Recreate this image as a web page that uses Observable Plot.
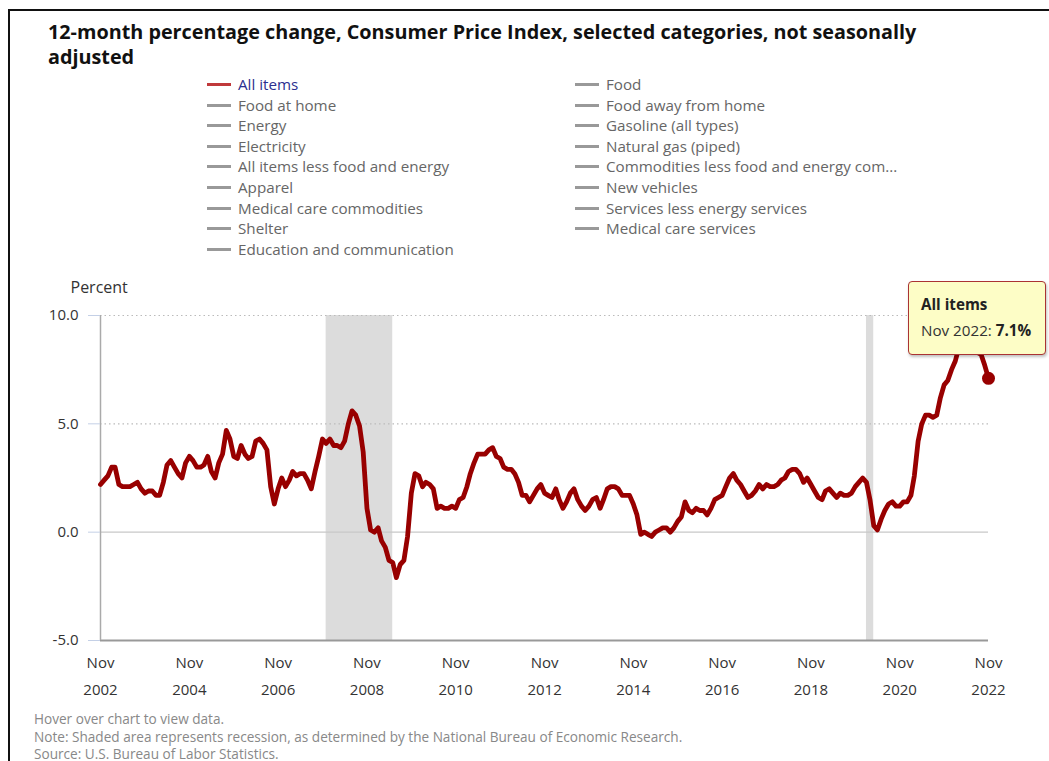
<!DOCTYPE html>
<html>
<head>
<meta charset="utf-8">
<script src="https://cdn.jsdelivr.net/npm/d3@7"></script>
<script src="https://cdn.jsdelivr.net/npm/@observablehq/plot@0.6"></script>
<style>
  body { margin: 0; background: #fff; width: 1049px; height: 761px; overflow: hidden; position: relative; font-family: "Open Sans", sans-serif; }
  #border { position: absolute; left: 8px; top: 9px; width: 1100px; height: 800px; border: 2px solid #111; box-sizing: border-box; }
  #title { position: absolute; left: 48px; top: 19px; width: 905px; font-family: "Open Sans", sans-serif; font-weight: bold; font-size: 19.8px; line-height: 25px; color: #111; }
  .legcol { position: absolute; top: 74px; }
  .legitem { height: 20.6px; line-height: 20.6px; font-size: 15.2px; color: #666; white-space: nowrap; position: relative; padding-left: 31px; }
  .legitem .sw { position: absolute; left: 0; top: 9px; width: 24px; height: 3px; background: #999; }
  #chart { position: absolute; left: 0; top: 270px; }
  #tip { position: absolute; left: 908px; top: 281px; width: 138px; height: 74px; box-sizing: border-box; background: #fdfdc6; border: 1px solid #a33; border-radius: 4px; box-shadow: 1px 2px 3px rgba(0,0,0,0.25); padding: 9px 0 0 12px; font-size: 15.2px; color: #333; line-height: 26px; white-space: nowrap; }
  #footer { position: absolute; left: 34px; top: 710px; font-size: 13.6px; line-height: 17.5px; color: #888; white-space: nowrap; }
</style>
</head>
<body>
<div id="border"></div>
<div id="title">12-month percentage change, Consumer Price Index, selected categories, not seasonally adjusted</div>
<div id="legend"></div>
<div id="chart"></div>
<div id="tip"><b style="color:#222">All items</b><br><span id="tiptext"></span></div>
<div id="footer"></div>
<script>
// ---- Data ----
const seriesName = "All items";
const startYear = 2002;
const startMonthIndex = 10; // November
const cpiAllItems = [
  2.2, 2.4,
  2.6, 3.0, 3.0, 2.2, 2.1, 2.1, 2.1, 2.2, 2.3, 2.0, 1.8, 1.9,
  1.9, 1.7, 1.7, 2.3, 3.1, 3.3, 3.0, 2.7, 2.5, 3.2, 3.5, 3.3,
  3.0, 3.0, 3.1, 3.5, 2.8, 2.5, 3.2, 3.6, 4.7, 4.3, 3.5, 3.4,
  4.0, 3.6, 3.4, 3.5, 4.2, 4.3, 4.1, 3.8, 2.1, 1.3, 2.0, 2.5,
  2.1, 2.4, 2.8, 2.6, 2.7, 2.7, 2.4, 2.0, 2.8, 3.5, 4.3, 4.1,
  4.3, 4.0, 4.0, 3.9, 4.2, 5.0, 5.6, 5.4, 4.9, 3.7, 1.1, 0.1,
  0.0, 0.2, -0.4, -0.7, -1.3, -1.4, -2.1, -1.5, -1.3, -0.2, 1.8, 2.7,
  2.6, 2.1, 2.3, 2.2, 2.0, 1.1, 1.2, 1.1, 1.1, 1.2, 1.1, 1.5,
  1.6, 2.1, 2.7, 3.2, 3.6, 3.6, 3.6, 3.8, 3.9, 3.5, 3.4, 3.0,
  2.9, 2.9, 2.7, 2.3, 1.7, 1.7, 1.4, 1.7, 2.0, 2.2, 1.8, 1.7,
  1.6, 2.0, 1.5, 1.1, 1.4, 1.8, 2.0, 1.5, 1.2, 1.0, 1.2, 1.5,
  1.6, 1.1, 1.5, 2.0, 2.1, 2.1, 2.0, 1.7, 1.7, 1.7, 1.3, 0.8,
  -0.1, 0.0, -0.1, -0.2, 0.0, 0.1, 0.2, 0.2, 0.0, 0.2, 0.5, 0.7,
  1.4, 1.0, 0.9, 1.1, 1.0, 1.0, 0.8, 1.1, 1.5, 1.6, 1.7, 2.1,
  2.5, 2.7, 2.4, 2.2, 1.9, 1.6, 1.7, 1.9, 2.2, 2.0, 2.2, 2.1,
  2.1, 2.2, 2.4, 2.5, 2.8, 2.9, 2.9, 2.7, 2.3, 2.5, 2.2, 1.9,
  1.6, 1.5, 1.9, 2.0, 1.8, 1.6, 1.8, 1.7, 1.7, 1.8, 2.1, 2.3,
  2.5, 2.3, 1.5, 0.3, 0.1, 0.6, 1.0, 1.3, 1.4, 1.2, 1.2, 1.4,
  1.4, 1.7, 2.6, 4.2, 5.0, 5.4, 5.4, 5.3, 5.4, 6.2, 6.8, 7.0,
  7.5, 7.9, 8.5, 8.3, 8.6, 9.1, 8.5, 8.3, 8.2, 7.7, 7.1
];
const recessionStarts = ["2007-12-01", "2020-02-01"];
const recessionEnds = ["2009-06-01", "2020-04-01"];
const xTickYears = [2002, 2004, 2006, 2008, 2010, 2012, 2014, 2016, 2018, 2020, 2022];
const yTicks = [-5, 0, 5, 10];
const yGridDotted = [5, 10];
const yAxisLabel = "Percent";
const monthNames = ["Jan","Feb","Mar","Apr","May","Jun","Jul","Aug","Sep","Oct","Nov","Dec"];
const legendLeft = ["All items", "Food at home", "Energy", "Electricity", "All items less food and energy", "Apparel", "Medical care commodities", "Shelter", "Education and communication"];
const legendRight = ["Food", "Food away from home", "Gasoline (all types)", "Natural gas (piped)", "Commodities less food and energy com...", "New vehicles", "Services less energy services", "Medical care services"];
const footerLines = [
  "Hover over chart to view data.",
  "Note: Shaded area represents recession, as determined by the National Bureau of Economic Research.",
  "Source: U.S. Bureau of Labor Statistics."
];

// ---- Build table ----
const data = cpiAllItems.map((v, i) => ({
  date: new Date(Date.UTC(startYear, startMonthIndex + i, 1)),
  value: v
}));
const recessions = recessionStarts.map((s, i) => ({ start: new Date(s + "T00:00:00Z"), end: new Date(recessionEnds[i] + "T00:00:00Z") }));
const xTicks = xTickYears.map(y => new Date(Date.UTC(y, 10, 1)));
const last = data[data.length - 1];
const xDomain = [data[0].date, last.date];

// ---- Legend ----
function makeCol(items, left) {
  const col = document.createElement("div");
  col.className = "legcol";
  col.style.left = left + "px";
  items.forEach(name => {
    const it = document.createElement("div");
    it.className = "legitem";
    const sw = document.createElement("span");
    sw.className = "sw";
    it.appendChild(sw);
    it.appendChild(document.createTextNode(name));
    if (name === seriesName) { sw.style.background = "#c0393b"; it.style.color = "#2b2f8f"; }
    col.appendChild(it);
  });
  document.getElementById("legend").appendChild(col);
}
makeCol(legendLeft, 207);
makeCol(legendRight, 575);

// ---- Footer ----
document.getElementById("footer").innerHTML = footerLines.map(t => `<div>${t}</div>`).join("");

// ---- Tooltip ----
document.getElementById("tiptext").innerHTML = `${monthNames[last.date.getUTCMonth()]} ${last.date.getUTCFullYear()}: <b style="color:#222">${last.value.toFixed(1)}%</b>`;

// ---- Chart ----
const chart = Plot.plot({
  width: 1049,
  height: 440,
  marginLeft: 100,
  marginRight: 61,
  marginTop: 45,
  marginBottom: 70,
  style: { fontFamily: "Open Sans", fontSize: "15px", color: "#333", background: "transparent", overflow: "visible" },
  x: { type: "utc", domain: xDomain },
  y: { domain: [-5, 10] },
  marks: [
    Plot.rect(recessions, { x1: "start", x2: "end", fill: "#dcdcdc" }),
    Plot.ruleY(yGridDotted, { stroke: "#bbb", strokeDasharray: "1.5,3", strokeWidth: 1.2 }),
    Plot.ruleY([0], { stroke: "#c8c8c8", strokeWidth: 1.2 }),
    Plot.ruleY([-5], { stroke: "#999", strokeWidth: 2 }),
    Plot.ruleX([xDomain[0]], { stroke: "#aaa", strokeWidth: 1.5 }),
    Plot.axisY({
      ticks: yTicks, tickSize: 12, tickPadding: 10, stroke: "#c4d0e6",
      tickFormat: d => d.toFixed(1), fill: "#333", label: null
    }),
    Plot.text([yAxisLabel], { frameAnchor: "top-left", text: d => d, textAnchor: "start", dx: -30, dy: -34, fontSize: 16, fill: "#333" }),
    Plot.axisX({ ticks: xTicks, tickSize: 0, tickPadding: 17, tickFormat: d => monthNames[d.getUTCMonth()], fill: "#333", label: null }),
    Plot.axisX({ ticks: xTicks, tickSize: 0, tickPadding: 44, tickFormat: d => String(d.getUTCFullYear()), fill: "#333", label: null }),
    Plot.line(data, { x: "date", y: "value", stroke: "#980000", strokeWidth: 4.8, strokeLinejoin: "round", strokeLinecap: "round" }),
    Plot.dot([last], { x: "date", y: "value", r: 6.5, fill: "#980000" })
  ]
});
document.getElementById("chart").appendChild(chart);
</script>
</body>
</html>
